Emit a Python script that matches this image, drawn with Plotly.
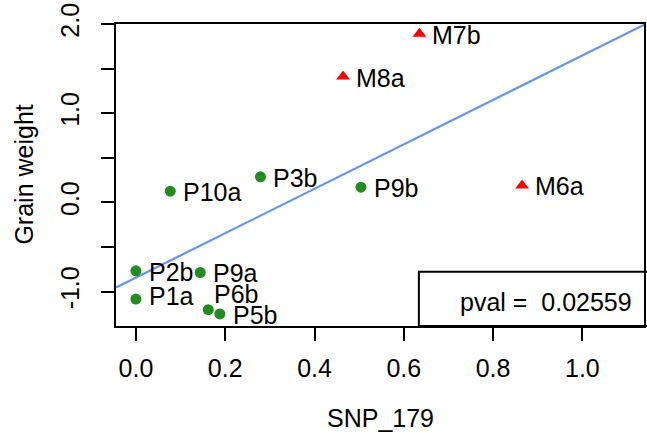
import numpy as np
import plotly.graph_objects as go

# Genotype frequency at SNP_179 and grain weight for each line
p_names = ["P10a", "P3b", "P9b", "P2b", "P9a", "P1a", "P6b", "P5b"]
p_snp = [0.077, 0.279, 0.504, 0.0, 0.144, 0.0, 0.162, 0.188]
p_weight = [0.126, 0.287, 0.17, -0.767, -0.786, -1.084, -1.203, -1.251]

m_names = ["M7b", "M8a", "M6a"]
m_snp = [0.635, 0.464, 0.865]
m_weight = [1.89, 1.41, 0.19]

pval_text = "pval =  0.02559"
x_title = "SNP_179"
y_title = "Grain weight"

x_ticks = [0.0, 0.2, 0.4, 0.6, 0.8, 1.0]
y_ticks = [-1.0, -0.5, 0.0, 0.5, 1.0, 1.5, 2.0]
y_tick_labels = ["-1.0", "", "0.0", "", "1.0", "", "2.0"]

x_range = [-0.0446, 1.138]
y_range = [-1.386, 2.0]

FONT = "Liberation Sans, Arial, sans-serif"
FS = 25
GREEN = "#228B22"
RED = "#FF0000"

# label nudges (pixels) for crowded points
label_nudge = {"P6b": (-7, 17), "P1a": (0, 4)}

# Least-squares fit over all lines
all_x = np.array(p_snp + m_snp)
all_y = np.array(p_weight + m_weight)
slope, intercept = np.polyfit(all_x, all_y, 1)
fit_x = np.array(x_range)
fit_y = intercept + slope * fit_x

fig = go.Figure()
fig.add_trace(go.Scatter(
    x=fit_x, y=fit_y, mode="lines",
    line=dict(color="#6495ED", width=2.2), hoverinfo="skip", showlegend=False,
))
fig.add_trace(go.Scatter(
    x=p_snp, y=p_weight, mode="markers",
    marker=dict(symbol="circle", size=11, color=GREEN), showlegend=False,
))
fig.add_trace(go.Scatter(
    x=m_snp, y=m_weight, mode="markers",
    marker=dict(symbol="triangle-up", size=12, color=RED), showlegend=False,
))

annotations = []
for name, xv, yv in zip(p_names + m_names, p_snp + m_snp, p_weight + m_weight):
    dx, dy = label_nudge.get(name, (0, 0))
    annotations.append(dict(
        x=xv, y=yv, xref="x", yref="y", text=name, showarrow=False,
        xanchor="left", yanchor="middle", xshift=11 + dx, yshift=-1 + dy,
        font=dict(family=FONT, size=FS, color="black"),
    ))

# axis titles
annotations.append(dict(
    x=0.5, y=-0.305, xref="paper", yref="paper", text=x_title,
    showarrow=False, xanchor="center", yanchor="middle",
    font=dict(family=FONT, size=FS, color="black"),
))
annotations.append(dict(
    x=-0.175, y=0.5, xref="paper", yref="paper", text=y_title,
    showarrow=False, xanchor="center", yanchor="middle", textangle=-90,
    font=dict(family=FONT, size=FS, color="black"),
))

# p-value box in the lower right corner
annotations.append(dict(
    x=0.981, y=0.08, xref="paper", yref="paper", text=pval_text,
    showarrow=False, xanchor="right", yanchor="middle",
    font=dict(family=FONT, size=FS, color="black"),
))
# panel letter of the next figure part
annotations.append(dict(
    x=-0.152, y=-0.32, xref="paper", yref="paper", text="<b>C</b>",
    showarrow=False, xanchor="left", yanchor="top",
    font=dict(family=FONT, size=44, color="black"),
))

shapes = [dict(
    type="rect", xref="paper", yref="paper",
    x0=0.5736, x1=1.01, y0=0.0, y1=0.18,
    line=dict(color="black", width=2), fillcolor="rgba(0,0,0,0)",
)]

axis_common = dict(
    showgrid=False, zeroline=False, showline=True, linecolor="black",
    linewidth=2, mirror=True, ticks="outside", ticklen=13, tickwidth=2,
    tickcolor="black", tickfont=dict(family=FONT, size=FS, color="black"),
)

fig.update_layout(
    width=647, height=433,
    margin=dict(l=116, r=1, t=24, b=107),
    paper_bgcolor="white", plot_bgcolor="white",
    xaxis=dict(
        range=x_range, tickvals=x_ticks,
        ticktext=[f"{v:.1f}" for v in x_ticks], ticklabelstandoff=6,
        **axis_common,
    ),
    yaxis=dict(
        range=y_range, tickvals=y_ticks, ticktext=y_tick_labels,
        tickangle=-90, ticklabelstandoff=12,
        **axis_common,
    ),
    annotations=annotations, shapes=shapes,
)

fig.write_html("out.html")
